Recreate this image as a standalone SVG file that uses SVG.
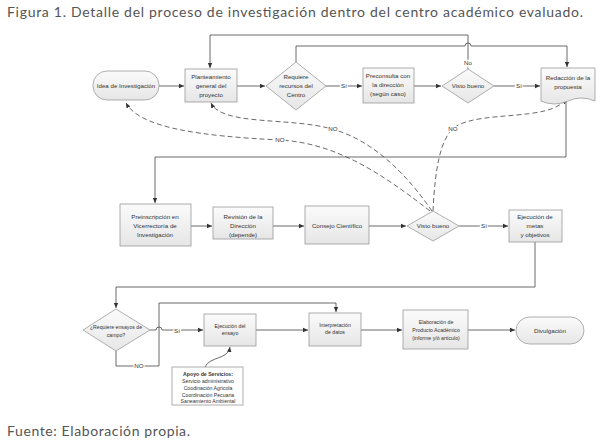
<svg xmlns="http://www.w3.org/2000/svg" width="600" height="443" viewBox="0 0 600 443">
<style>
.node{fill:url(#g);stroke:#9a9a9a;stroke-width:0.8}
.t{font-family:"Liberation Sans",Arial,sans-serif;font-size:6.2px;fill:#333;text-anchor:middle}
.s{font-size:5.2px}
.lbl{font-family:"Liberation Sans",Arial,sans-serif;font-size:6.2px;fill:#333;text-anchor:middle;stroke:#fff;stroke-width:2.5px;paint-order:stroke}
.c{fill:none;stroke:#444;stroke-width:0.8}
.d{fill:none;stroke:#444;stroke-width:0.8;stroke-dasharray:5 3}
.cap{font-family:Lato,"Open Sans",sans-serif;font-size:14px;fill:#555}
</style>
<defs>
<linearGradient id="g" x1="0" y1="0" x2="0" y2="1">
<stop offset="0" stop-color="#fbfbfb"/><stop offset="1" stop-color="#e6e6e6"/>
</linearGradient>
<marker id="a" markerWidth="6" markerHeight="6" refX="5" refY="3" orient="auto" markerUnits="userSpaceOnUse">
<path d="M0,0.8 L5,3 L0,5.2 Z" fill="#333"/>
</marker>
</defs>
<rect width="600" height="443" fill="#fff"/>
<text class="cap" x="7" y="17" textLength="576">Figura 1. Detalle del proceso de investigación dentro del centro académico evaluado.</text>
<text class="cap" x="7" y="436" textLength="183">Fuente: Elaboración propia.</text>

<g id="connectors">
<path class="c" d="M159,86 H184" marker-end="url(#a)"/>
<path class="c" d="M237,86 H265" marker-end="url(#a)"/>
<path class="c" d="M326,86 H362" marker-end="url(#a)"/>
<path class="c" d="M414,86 H441" marker-end="url(#a)"/>
<path class="c" d="M494,86 H540" marker-end="url(#a)"/>
<path class="c" d="M468,69 V35 H210 V68" marker-end="url(#a)"/>
<path class="c" d="M296,62 V46 H465 a3,3 0 0 1 6,0 H567 V67" marker-end="url(#a)"/>
<path class="c" d="M566,101 V157 H155 V203" marker-end="url(#a)"/>
<path class="c" d="M191,226 H212" marker-end="url(#a)"/>
<path class="c" d="M273,226 H304" marker-end="url(#a)"/>
<path class="c" d="M369,226 H406" marker-end="url(#a)"/>
<path class="c" d="M459,226 H508" marker-end="url(#a)"/>
<path class="c" d="M535,242 V287 H116 V308" marker-end="url(#a)"/>
<path class="c" d="M150,330 H156 a3,3 0 0 1 6,0 H203" marker-end="url(#a)"/>
<path class="c" d="M116,351 V366 H159 V303 H336 V312" marker-end="url(#a)"/>
<path class="c" d="M256,330 H308" marker-end="url(#a)"/>
<path class="c" d="M361,330 H402" marker-end="url(#a)"/>
<path class="c" d="M468,330 H515" marker-end="url(#a)"/>
<path class="c" d="M205,367 C210,356 228,360 230,347" marker-end="url(#a)"/>
<path class="d" d="M430,211 C380,172 335,143 280,140 C200,136 140,128 126,103" marker-end="url(#a)"/>
<path class="d" d="M432,211 C405,172 372,140 332,129 C290,117 222,126 211,103" marker-end="url(#a)"/>
<path class="d" d="M433,211 C435,170 440,138 455,127 C480,110 550,122 566,99" marker-end="url(#a)"/>
<text class="lbl" x="344" y="88">Sí</text>
<text class="lbl" x="519" y="88">Sí</text>
<text class="lbl" x="468" y="65">No</text>
<text class="lbl" x="484" y="228">Sí</text>
<text class="lbl" x="177" y="333">Sí</text>
<text class="lbl" x="139" y="368">NO</text>
<text class="lbl" x="280" y="142">NO</text>
<text class="lbl" x="333" y="131">NO</text>
<text class="lbl" x="453" y="131">NO</text>
</g>

<g id="idea"><rect class="node" x="93" y="71" width="66" height="29" rx="14"/><text class="t" x="126" y="88">Idea de Investigación</text></g>
<g id="planteamiento"><rect class="node" x="185" y="69" width="52" height="33"/><text class="t" x="211" y="79">Planteamiento</text><text class="t" x="211" y="88">general del</text><text class="t" x="211" y="97">proyecto</text></g>
<g id="requiere"><path class="node" d="M296,62 L326,86 L296,110 L266,86 Z"/><text class="t" x="296" y="79">Requiere</text><text class="t" x="296" y="88">recursos del</text><text class="t" x="296" y="97">Centro</text></g>
<g id="preconsulta"><rect class="node" x="363" y="68" width="51" height="35"/><text class="t" x="388" y="78">Preconsulta con</text><text class="t" x="388" y="87">la dirección</text><text class="t" x="388" y="96">(según caso)</text></g>
<g id="visto1"><path class="node" d="M468,69 L494,86 L468,103 L442,86 Z"/><text class="t" x="468" y="88">Visto bueno</text></g>
<g id="redaccion"><path class="node" d="M541,68 H595 V101 Q581,95 568,101 Q554,107 541,101 Z"/><text class="t" x="568" y="80">Redacción de la</text><text class="t" x="568" y="89">propuesta</text></g>

<g id="preinscripcion"><rect class="node" x="120" y="204" width="71" height="42"/><text class="t" x="155" y="219">Preinscripción en</text><text class="t" x="155" y="228">Vicerrectoría de</text><text class="t" x="155" y="237">Investigación</text></g>
<g id="revision"><rect class="node" x="213" y="207" width="60" height="32"/><text class="t" x="243" y="219">Revisión de la</text><text class="t" x="243" y="228">Dirección</text><text class="t" x="243" y="237">(depende)</text></g>
<g id="consejo"><rect class="node" x="305" y="206" width="64" height="38"/><text class="t" x="337" y="228">Consejo Científico</text></g>
<g id="visto2"><path class="node" d="M433,211 L459,226 L433,241 L407,226 Z"/><text class="t" x="433" y="228">Visto bueno</text></g>
<g id="ejecucion-metas"><rect class="node" x="509" y="210" width="53" height="32"/><text class="t" x="535" y="219">Ejecución de</text><text class="t" x="535" y="228">metas</text><text class="t" x="535" y="237">y objetivos</text></g>

<g id="ensayos"><path class="node" d="M116,309 L150,330 L116,351 L83,330 Z"/><text class="t s" x="116" y="329">¿Requiere ensayos de</text><text class="t s" x="116" y="337">campo?</text></g>
<g id="ejecucion-ensayo"><rect class="node" x="204" y="314" width="52" height="32"/><text class="t s" x="230" y="328">Ejecución del</text><text class="t s" x="230" y="335">ensayo</text></g>
<g id="interpretacion"><rect class="node" x="309" y="313" width="52" height="33"/><text class="t s" x="335" y="327">Interpretación</text><text class="t s" x="335" y="334">de datos</text></g>
<g id="elaboracion"><rect class="node" x="403" y="310" width="65" height="39"/><text class="t s" x="436" y="324">Elaboración de</text><text class="t s" x="436" y="332">Producto Académico</text><text class="t s" x="436" y="340">(informe y/ó artículo)</text></g>
<g id="divulgacion"><rect class="node" x="516" y="317" width="68" height="27" rx="13.5"/><text class="t" x="550" y="332.5">Divulgación</text></g>
<g id="apoyo"><rect x="172" y="367" width="71" height="38" fill="#fff" stroke="#9a9a9a" stroke-width="0.8"/><text class="t s" x="208" y="376" font-weight="bold">Apoyo de Servicios:</text><text class="t s" x="208" y="383">Servicio administrativo</text><text class="t s" x="208" y="390">Coodinación Agricola</text><text class="t s" x="208" y="396.5">Coordinación Pecuaria</text><text class="t s" x="208" y="403">Saneamiento Ambiental</text></g>
</svg>
